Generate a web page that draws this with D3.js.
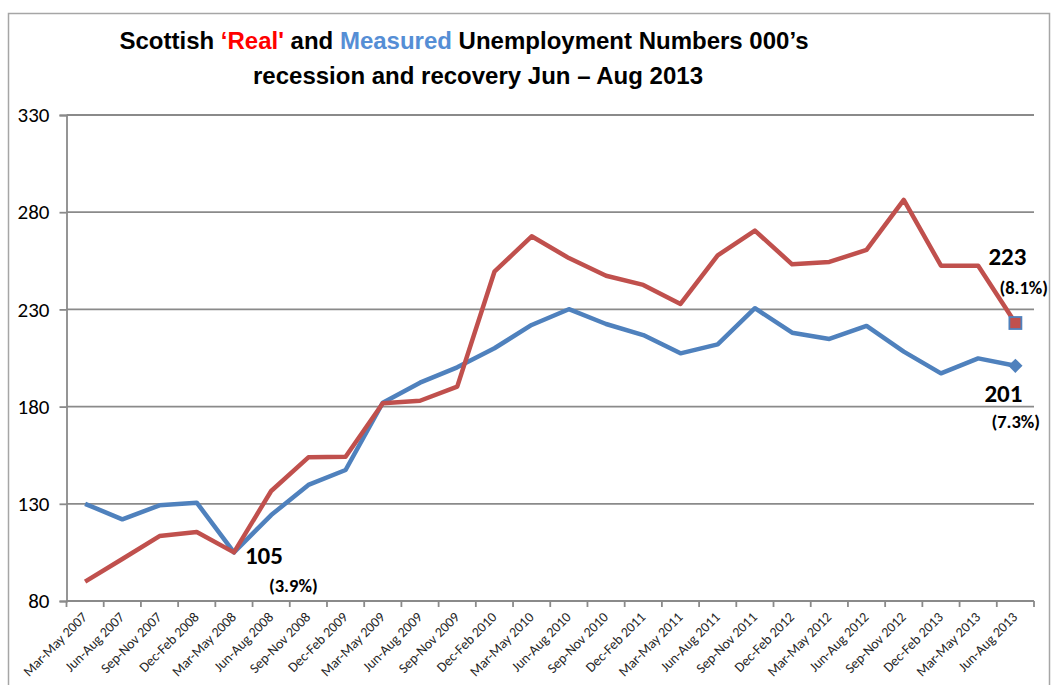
<!DOCTYPE html>
<html>
<head>
<meta charset="utf-8">
<script src="https://cdn.jsdelivr.net/npm/d3@7"></script>
<style>
  html, body { margin: 0; padding: 0; background: #fff; }
  svg { display: block; }
</style>
</head>
<body>
<svg id="chart" width="1054" height="685"></svg>
<script>
// Quarterly periods (rolling three-month windows)
const periods = [
  "Mar-May 2007", "Jun-Aug 2007", "Sep-Nov 2007", "Dec-Feb 2008",
  "Mar-May 2008", "Jun-Aug 2008", "Sep-Nov 2008", "Dec-Feb 2009",
  "Mar-May 2009", "Jun-Aug 2009", "Sep-Nov 2009", "Dec-Feb 2010",
  "Mar-May 2010", "Jun-Aug 2010", "Sep-Nov 2010", "Dec-Feb 2011",
  "Mar-May 2011", "Jun-Aug 2011", "Sep-Nov 2011", "Dec-Feb 2012",
  "Mar-May 2012", "Jun-Aug 2012", "Sep-Nov 2012", "Dec-Feb 2013",
  "Mar-May 2013", "Jun-Aug 2013"
];

// 'Real' unemployment, thousands
const realUnemployment = [
  90, 101.6, 113.4, 115.5, 105, 136.6, 153.9, 154.2,
  181.7, 183, 190.3, 249.4, 267.6, 256.4, 247.3, 242.6,
  232.8, 257.8, 270.5, 253.2, 254.4, 260.6, 286.3, 252.5,
  252.5, 223
];

// Measured (ILO) unemployment, thousands
const measuredUnemployment = [
  130, 122, 129.2, 130.6, 105, 124.2, 139.7, 147.4,
  182, 192.3, 200.2, 210, 222, 230.1, 222.5, 216.8,
  207.4, 212, 230.6, 218, 214.8, 221.5, 208.3, 197.1,
  204.8, 201
];

// Y axis ticks
const yTicks = [80, 130, 180, 230, 280, 330];

// Unemployment rates shown beneath the called-out values
const troughRate = "(3.9%)";
const realLatestRate = "(8.1%)";
const measuredLatestRate = "(7.3%)";

const RED = "#C0504D";
const BLUE = "#4F81BD";
const GRID = "#8a8a8a";
const LABEL_FONT = "Carlito, Calibri, Lato, sans-serif";

const svg = d3.select("#chart");

// Outer chart border
svg.append("rect")
  .attr("x", 8.5).attr("y", 13.5)
  .attr("width", 1041).attr("height", 690)
  .attr("fill", "none")
  .attr("stroke", "#a6a6a6")
  .attr("stroke-width", 1.5);

// Title
const title = svg.append("g")
  .attr("font-family", "'Liberation Sans', Arial, sans-serif")
  .attr("font-weight", "bold")
  .attr("font-size", 24)
  .attr("fill", "#000");

const t1 = title.append("text").attr("x", 464).attr("y", 49).attr("text-anchor", "middle");
t1.append("tspan").text("Scottish ");
t1.append("tspan").attr("fill", "#FF0000").text("\u2018Real'");
t1.append("tspan").text(" and ");
t1.append("tspan").attr("fill", "#558ED5").text("Measured");
t1.append("tspan").text(" Unemployment Numbers 000\u2019s");

title.append("text").attr("x", 478).attr("y", 84).attr("text-anchor", "middle")
  .text("recession and recovery Jun \u2013 Aug 2013");

// Scales
const plotLeft = 66.5, plotRight = 1034, plotTop = 115, plotBottom = 601;

const x = d3.scaleBand()
  .domain(periods)
  .range([plotLeft, plotRight])
  .paddingInner(0).paddingOuter(0);
const xc = d => x(d) + x.bandwidth() / 2;

const y = d3.scaleLinear()
  .domain([80, 330])
  .range([plotBottom, plotTop]);

// Horizontal gridlines
svg.append("g")
  .selectAll("line")
  .data(yTicks.filter(v => v !== 80))
  .join("line")
  .attr("x1", plotLeft).attr("x2", plotRight)
  .attr("y1", d => y(d)).attr("y2", d => y(d))
  .attr("stroke", GRID).attr("stroke-width", 1.8);

// Y axis
const yAxis = svg.append("g")
  .attr("transform", `translate(${plotLeft},0)`)
  .call(d3.axisLeft(y).tickValues(yTicks).tickSize(7).tickPadding(10));
yAxis.select(".domain").attr("stroke", GRID).attr("stroke-width", 1.8);
yAxis.selectAll(".tick line").attr("stroke", GRID).attr("stroke-width", 1.8);
yAxis.selectAll(".tick text")
  .attr("font-family", LABEL_FONT)
  .attr("font-size", 21)
  .attr("fill", "#000");

// X axis: line, tick marks at category boundaries, rotated labels
const xAxis = svg.append("g");
xAxis.append("line")
  .attr("x1", plotLeft).attr("x2", plotRight)
  .attr("y1", plotBottom).attr("y2", plotBottom)
  .attr("stroke", GRID).attr("stroke-width", 1.8);

const boundaries = periods.map(p => x(p)).concat([x(periods[periods.length - 1]) + x.bandwidth()]);
xAxis.selectAll("line.tick")
  .data(boundaries)
  .join("line")
  .attr("class", "tick")
  .attr("x1", d => d).attr("x2", d => d)
  .attr("y1", plotBottom).attr("y2", plotBottom + 6)
  .attr("stroke", GRID).attr("stroke-width", 1.8);

xAxis.selectAll("text")
  .data(periods)
  .join("text")
  .attr("transform", d => `translate(${xc(d) + 3},618) rotate(-45)`)
  .attr("text-anchor", "end")
  .attr("font-family", LABEL_FONT)
  .attr("font-size", 14)
  .attr("fill", "#262626")
  .text(d => d);

// Lines
const line = d3.line()
  .x((d, i) => xc(periods[i]))
  .y(d => y(d));

svg.append("path")
  .datum(measuredUnemployment)
  .attr("d", line)
  .attr("fill", "none")
  .attr("stroke", BLUE)
  .attr("stroke-width", 4.5)
  .attr("stroke-linejoin", "round");

svg.append("path")
  .datum(realUnemployment)
  .attr("d", line)
  .attr("fill", "none")
  .attr("stroke", RED)
  .attr("stroke-width", 4.5)
  .attr("stroke-linejoin", "round");

// Markers on the latest period
const last = periods.length - 1;
const lastX = xc(periods[last]);

svg.append("path")
  .attr("d", d3.symbol(d3.symbolDiamond2, 130)())
  .attr("transform", `translate(${lastX},${y(measuredUnemployment[last])})`)
  .attr("fill", BLUE);

svg.append("rect")
  .attr("x", lastX - 6).attr("y", y(realUnemployment[last]) - 6)
  .attr("width", 12).attr("height", 12)
  .attr("fill", RED)
  .attr("stroke", BLUE)
  .attr("stroke-width", 1.8);

// Value call-outs
const callouts = svg.append("g")
  .attr("font-family", LABEL_FONT)
  .attr("font-weight", "bold")
  .attr("fill", "#000");

const trough = 4;
callouts.append("text")
  .attr("x", xc(periods[trough]) + 11).attr("y", y(measuredUnemployment[trough]) + 12)
  .attr("font-size", 25)
  .text(d3.format("d")(measuredUnemployment[trough]));
callouts.append("text")
  .attr("x", xc(periods[trough]) + 35).attr("y", y(measuredUnemployment[trough]) + 40)
  .attr("font-size", 18.5)
  .text(troughRate);

callouts.append("text")
  .attr("x", lastX - 27).attr("y", y(realUnemployment[last]) - 58)
  .attr("font-size", 25)
  .text(d3.format("d")(realUnemployment[last]));
callouts.append("text")
  .attr("x", lastX - 16).attr("y", y(realUnemployment[last]) - 29)
  .attr("font-size", 18.5)
  .text(realLatestRate);

callouts.append("text")
  .attr("x", lastX - 31).attr("y", y(measuredUnemployment[last]) + 36)
  .attr("font-size", 25)
  .text(d3.format("d")(measuredUnemployment[last]));
callouts.append("text")
  .attr("x", lastX - 24).attr("y", y(measuredUnemployment[last]) + 62)
  .attr("font-size", 18.5)
  .text(measuredLatestRate);
</script>
</body>
</html>
